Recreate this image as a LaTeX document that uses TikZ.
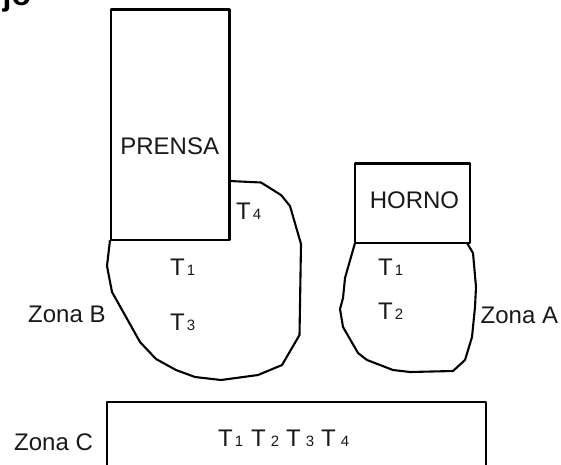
\documentclass[tikz,border=0pt]{standalone}
\usepackage{fontspec}
\setmainfont{Liberation Sans}
\newcommand{\Sb}[1]{{\fontsize{15}{17}\selectfont #1}}
\newcommand{\Tsub}[1]{T\kern2pt\Sb{#1}}
\tikzset{
  outline/.style={draw=black,line width=2.1pt,line join=round,outer sep=0pt},
  lbl/.style={inner sep=0pt,font=\fontsize{24}{28}\selectfont,text=black!90},
}
\begin{document}
\begin{tikzpicture}[x=1pt,y=-1pt]
\useasboundingbox (0,0) rectangle (561,464);
\begin{scope}
\clip (0,0) rectangle (561,464);
\node[inner sep=0pt,anchor=base west,font=\bfseries\fontsize{32}{36}\selectfont] (title) at (2.5,5) {jo};
\draw[outline] (107,465.5) -- (107,402) -- (486,402) -- (486,465.5);
\end{scope}
\draw[outline] (229.5,181) -- (261,182.5) -- (281,195) -- (290,206) -- (301,244) -- (299.5,335) -- (282,365) -- (258,375) -- (221,380) -- (195,377) -- (176,370) -- (156,359) -- (140,342) -- (112,292) -- (107,266) -- (110,240);
\draw[outline] (355,243) -- (345,278) -- (343,298) -- (340,309) -- (343,327) -- (358,353) -- (367,360) -- (393,370) -- (410,372) -- (453,371) -- (465,360) -- (472,337) -- (475,307) -- (476,287) -- (473,253) -- (467,243);
\node[outline,minimum width=118.5pt,minimum height=230.5pt,anchor=north west,inner sep=0pt] (prensa) at (111,9.5) {};
\node[outline,minimum width=115pt,minimum height=79.5pt,anchor=north west,inner sep=0pt] (horno) at (355,163.5) {};
\node[lbl,anchor=base] (lprensa) at (169.7,154.5) {PRENSA};
\node[lbl,anchor=base] (lhorno) at (414.5,208.5) {HORNO};
\node[lbl,anchor=base west] (b4) at (236,219.5) {\Tsub{4}};
\node[lbl,anchor=base west] (b1) at (170,275.5) {\Tsub{1}};
\node[lbl,anchor=base west] (b3) at (170,330.5) {\Tsub{3}};
\node[lbl,anchor=base west] (a1) at (378,275.5) {\Tsub{1}};
\node[lbl,anchor=base west] (a2) at (378,319.5) {\Tsub{2}};
\node[lbl,anchor=base west] (zb) at (28,322.5) {Zona B};
\node[lbl,anchor=base west] (za) at (480.5,323.5) {Zona A};
\node[lbl,anchor=base west] (zc) at (14,450.5) {Zona C};
\node[lbl,anchor=base west] (c1) at (218,446.5) {\Tsub{1}};
\node[lbl,anchor=base west] (c2) at (251,446.5) {T\kern5pt\Sb{2}};
\node[lbl,anchor=base west] (c3) at (286,446.5) {T\kern5pt\Sb{3}};
\node[lbl,anchor=base west] (c4) at (321,446.5) {T\kern5pt\Sb{4}};
\end{tikzpicture}
\end{document}
